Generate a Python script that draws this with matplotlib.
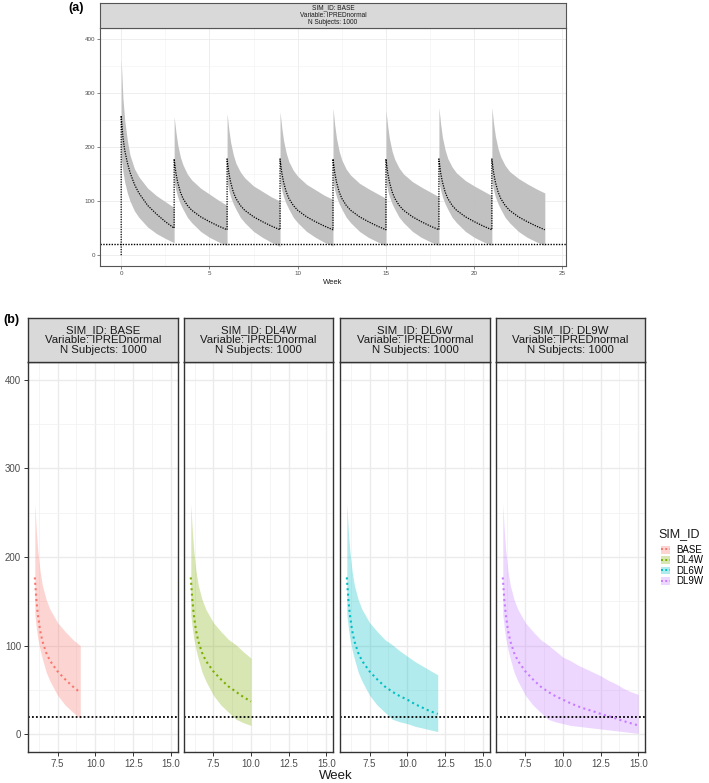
import numpy as np
import matplotlib
matplotlib.use("Agg")
import matplotlib.pyplot as plt
from matplotlib.patches import Patch
from matplotlib.lines import Line2D

plt.rcParams["font.family"] = ["Liberation Sans", "DejaVu Sans"]

# ---------------- data: panel (a) ----------------
dose_weeks = [0, 3, 6, 9, 12, 15, 18, 21]
cycle_offsets = [0, 0.1, 0.2, 0.35, 0.5, 0.75, 1.0, 1.5, 2.0, 2.5, 3.0]
median_a = [
    [258, 218, 194, 171, 153, 131, 115, 92, 76, 62, 50],
    [178, 152, 135, 117, 105, 92, 83, 71, 62, 54, 47],
    [178, 152, 135, 117, 105, 92, 83, 71, 62, 54, 47],
    [178, 152, 135, 117, 105, 92, 83, 71, 62, 54, 47],
    [178, 152, 135, 117, 105, 92, 83, 71, 62, 54, 47],
    [178, 152, 135, 117, 105, 92, 83, 71, 62, 54, 47],
    [178, 152, 135, 117, 105, 92, 83, 71, 62, 54, 47],
    [178, 152, 135, 117, 105, 92, 83, 71, 62, 54, 47],
]
upper_a = [
    [362, 290, 250, 212, 185, 160, 145, 124, 110, 99, 88],
    [256, 228, 205, 182, 167, 150, 139, 124, 113, 102, 92],
    [262, 232, 209, 186, 170, 154, 143, 128, 118, 108, 100],
    [265, 235, 212, 189, 173, 157, 146, 131, 121, 111, 103],
    [272, 240, 216, 192, 176, 159, 148, 133, 123, 114, 105],
    [268, 238, 215, 192, 177, 161, 150, 136, 126, 117, 108],
    [273, 242, 218, 195, 179, 163, 152, 138, 128, 119, 110],
    [273, 243, 220, 197, 182, 166, 155, 142, 132, 123, 115],
]
lower_a = [
    [180, 155, 135, 115, 100, 82, 70, 52, 40, 31, 23],
    [135, 120, 108, 95, 85, 70, 60, 44, 33, 25, 18],
    [135, 120, 108, 95, 85, 70, 60, 44, 33, 24, 16],
    [135, 120, 108, 95, 85, 70, 60, 44, 33, 24, 17],
    [135, 120, 108, 95, 85, 70, 60, 44, 33, 25, 17],
    [135, 120, 108, 95, 85, 70, 60, 44, 33, 25, 18],
    [135, 120, 108, 95, 85, 70, 60, 44, 33, 25, 18],
    [135, 120, 108, 95, 85, 70, 60, 44, 33, 25, 18],
]
threshold = 20

# ---------------- data: panel (b) ----------------
scenarios = ["BASE", "DL4W", "DL6W", "DL9W"]
week_base = [6, 6.1, 6.2, 6.35, 6.5, 6.75, 7, 7.5, 8, 8.5, 9]
median_base = [177, 152, 135, 117, 105, 92, 83, 71, 62, 54, 47]
upper_base = [260, 230, 207, 184, 168, 152, 141, 126, 116, 107, 100]
lower_base = [135, 120, 108, 95, 85, 70, 60, 44, 33, 25, 18]

week_dl4w = [6, 6.1, 6.2, 6.35, 6.5, 6.75, 7, 7.5, 8, 8.5, 9, 9.5, 10]
median_dl4w = [177, 152, 135, 117, 105, 92, 83, 71, 62, 54, 48, 42, 37]
upper_dl4w = [260, 230, 207, 184, 168, 152, 141, 126, 116, 107, 101, 93, 86]
lower_dl4w = [135, 120, 108, 95, 85, 70, 60, 44, 33, 25, 17, 13, 10]

week_dl6w = [6, 6.1, 6.2, 6.35, 6.5, 6.75, 7, 7.5, 8, 8.5, 9, 9.5, 10, 10.5, 11, 11.5, 12]
median_dl6w = [177, 152, 135, 117, 105, 92, 83, 71, 62, 54, 48, 43, 39, 34, 30, 26, 23]
upper_dl6w = [260, 230, 207, 184, 168, 152, 141, 126, 116, 107, 101, 94, 88, 82, 77, 72, 67]
lower_dl6w = [135, 120, 108, 95, 85, 70, 60, 44, 33, 25, 17, 14, 12, 9, 7, 5, 3]

week_dl9w = [6, 6.1, 6.2, 6.35, 6.5, 6.75, 7, 7.5, 8, 8.5, 9, 9.5, 10, 10.5, 11, 11.5,
             12, 12.5, 13, 13.5, 14, 14.5, 15]
median_dl9w = [177, 152, 135, 117, 105, 92, 83, 71, 62, 54, 48, 43, 39, 35, 31.5, 28.5,
               26, 23, 20.5, 18, 15, 12.5, 10]
upper_dl9w = [260, 230, 207, 184, 168, 152, 141, 126, 116, 107, 101, 94, 87, 83, 78, 74,
              70, 66, 61, 57, 52, 48, 45]
lower_dl9w = [135, 120, 108, 95, 85, 70, 60, 44, 33, 25, 17, 14, 12, 10, 9, 8,
              7, 6, 5, 4, 3, 2, 1]

colors = ["#F8766D", "#7CAE00", "#00BFC4", "#C77CFF"]
subjects = 1000
variable = "IPREDnormal"

# ---------------- figure ----------------
W, H = 709, 783
fig = plt.figure(figsize=(W / 100, H / 100), dpi=100)


def fbox(x0, y0, x1, y1):
    return [x0 / W, 1 - y1 / H, (x1 - x0) / W, (y1 - y0) / H]


border = "#333333"
grid_major = "#EBEBEB"


def style_axes(ax, bcol, blw):
    for s in ax.spines.values():
        s.set_color(bcol)
        s.set_linewidth(blw)
    ax.set_axisbelow(True)


def add_strip(box, lines, fs, bcol, blw, ls):
    sa = fig.add_axes(box)
    sa.set_facecolor("#D9D9D9")
    sa.set_xticks([])
    sa.set_yticks([])
    for s in sa.spines.values():
        s.set_color(bcol)
        s.set_linewidth(blw)
    sa.text(0.5, 0.5, "\n".join(lines), ha="center", va="center", fontsize=fs,
            color="#1A1A1A", linespacing=ls, transform=sa.transAxes)
    return sa


# ---- panel (a) ----
ta, ma, ua, la = [], [], [], []
for d, med, up, lo in zip(dose_weeks, median_a, upper_a, lower_a):
    for o, m, u, l in zip(cycle_offsets, med, up, lo):
        ta.append(d + o)
        ma.append(m)
        ua.append(u)
        la.append(l)
ta = np.array(ta)

axa = fig.add_axes(fbox(100, 28, 566, 266))
style_axes(axa, "#555555", 0.8)
axa.set_xlim(-1.2, 25.2)
axa.set_ylim(-20, 420)
axa.set_xticks([0, 5, 10, 15, 20, 25])
axa.set_xticks([2.5, 7.5, 12.5, 17.5, 22.5], minor=True)
axa.set_yticks([0, 100, 200, 300, 400])
axa.set_yticks([50, 150, 250, 350], minor=True)
axa.grid(True, which="major", color=grid_major, lw=0.6)
axa.grid(True, which="minor", color="#F2F2F2", lw=0.4)
axa.tick_params(which="major", labelsize=4.5, colors="#555555", length=2, width=0.5,
                labelcolor="#4D4D4D", pad=1.5)
axa.tick_params(which="minor", length=0)
axa.fill_between(ta, la, ua, color="#BEBEBE", lw=0, alpha=0.95)
axa.axhline(threshold, color="black", lw=1.0, ls=(0, (1, 1)))
axa.plot(np.concatenate([[0], ta]), np.concatenate([[0], ma]), color="black",
         lw=0.9, ls=(0, (1, 1)))
axa.set_xlabel("Week", fontsize=5.5, labelpad=2, color="#1A1A1A")
add_strip(fbox(100, 3, 566, 28),
          ["SIM_ID: BASE", "Variable: " + variable, "N Subjects: %d" % subjects],
          4.7, "#555555", 0.8, 1.05)
fig.text(68 / W, 1 - 8 / H, "(a)", fontsize=9, fontweight="bold", va="center", ha="left")

# ---- panel (b) ----
panel_x = [(28, 178), (184, 333), (340, 490), (496, 645)]
weeks_b = [week_base, week_dl4w, week_dl6w, week_dl9w]
meds_b = [median_base, median_dl4w, median_dl6w, median_dl9w]
ups_b = [upper_base, upper_dl4w, upper_dl6w, upper_dl9w]
los_b = [lower_base, lower_dl4w, lower_dl6w, lower_dl9w]

for i, (sc, (x0, x1)) in enumerate(zip(scenarios, panel_x)):
    ax = fig.add_axes(fbox(x0, 362, x1, 752))
    style_axes(ax, border, 1.0)
    ax.set_xlim(5.55, 15.45)
    ax.set_ylim(-20, 420)
    ax.set_xticks([7.5, 10.0, 12.5, 15.0])
    ax.set_xticklabels(["7.5", "10.0", "12.5", "15.0"])
    ax.set_xticks([6.25, 8.75, 11.25, 13.75], minor=True)
    ax.set_yticks([0, 100, 200, 300, 400])
    ax.set_yticks([50, 150, 250, 350], minor=True)
    ax.grid(True, which="major", color=grid_major, lw=1.0)
    ax.grid(True, which="minor", color="#F2F2F2", lw=0.6)
    ax.tick_params(which="major", labelsize=7, colors="#333333", length=3, width=0.7,
                   labelcolor="#4D4D4D", pad=2)
    ax.tick_params(which="minor", length=0)
    if i > 0:
        ax.tick_params(axis="y", left=False, labelleft=False)
    ax.fill_between(weeks_b[i], los_b[i], ups_b[i], color=colors[i], alpha=0.3, lw=0)
    ax.axhline(threshold, color="black", lw=1.3, ls=(0, (1, 1.2)))
    ax.plot(weeks_b[i], meds_b[i], color=colors[i], lw=1.5, ls=(0, (1, 1.6)))
    add_strip(fbox(x0, 318, x1, 362),
              ["SIM_ID: " + sc, "Variable: " + variable, "N Subjects: %d" % subjects],
              8.2, border, 1.0, 1.0)

fig.text(336 / W, 1 - 776 / H, "Week", fontsize=9.5, ha="center", va="center", color="#1A1A1A")
fig.text(3 / W, 1 - 320 / H, "(b)", fontsize=9, fontweight="bold", va="center", ha="left")

# legend
fig.text(658 / W, 1 - 534 / H, "SIM_ID", fontsize=9, ha="left", va="center", color="#1A1A1A")
handles = [(Patch(facecolor=c, alpha=0.3, lw=0),
            Line2D([], [], color=c, lw=1.4, ls=(0, (1, 1.2)))) for c in colors]
fig.legend(handles, scenarios, loc="upper left",
           bbox_to_anchor=(661 / W, 1 - 545 / H), frameon=False, fontsize=7,
           handlelength=0.95, handleheight=0.85, handletextpad=0.6,
           labelspacing=0.05, borderaxespad=0, borderpad=0)

fig.savefig("out.png", dpi=100)
